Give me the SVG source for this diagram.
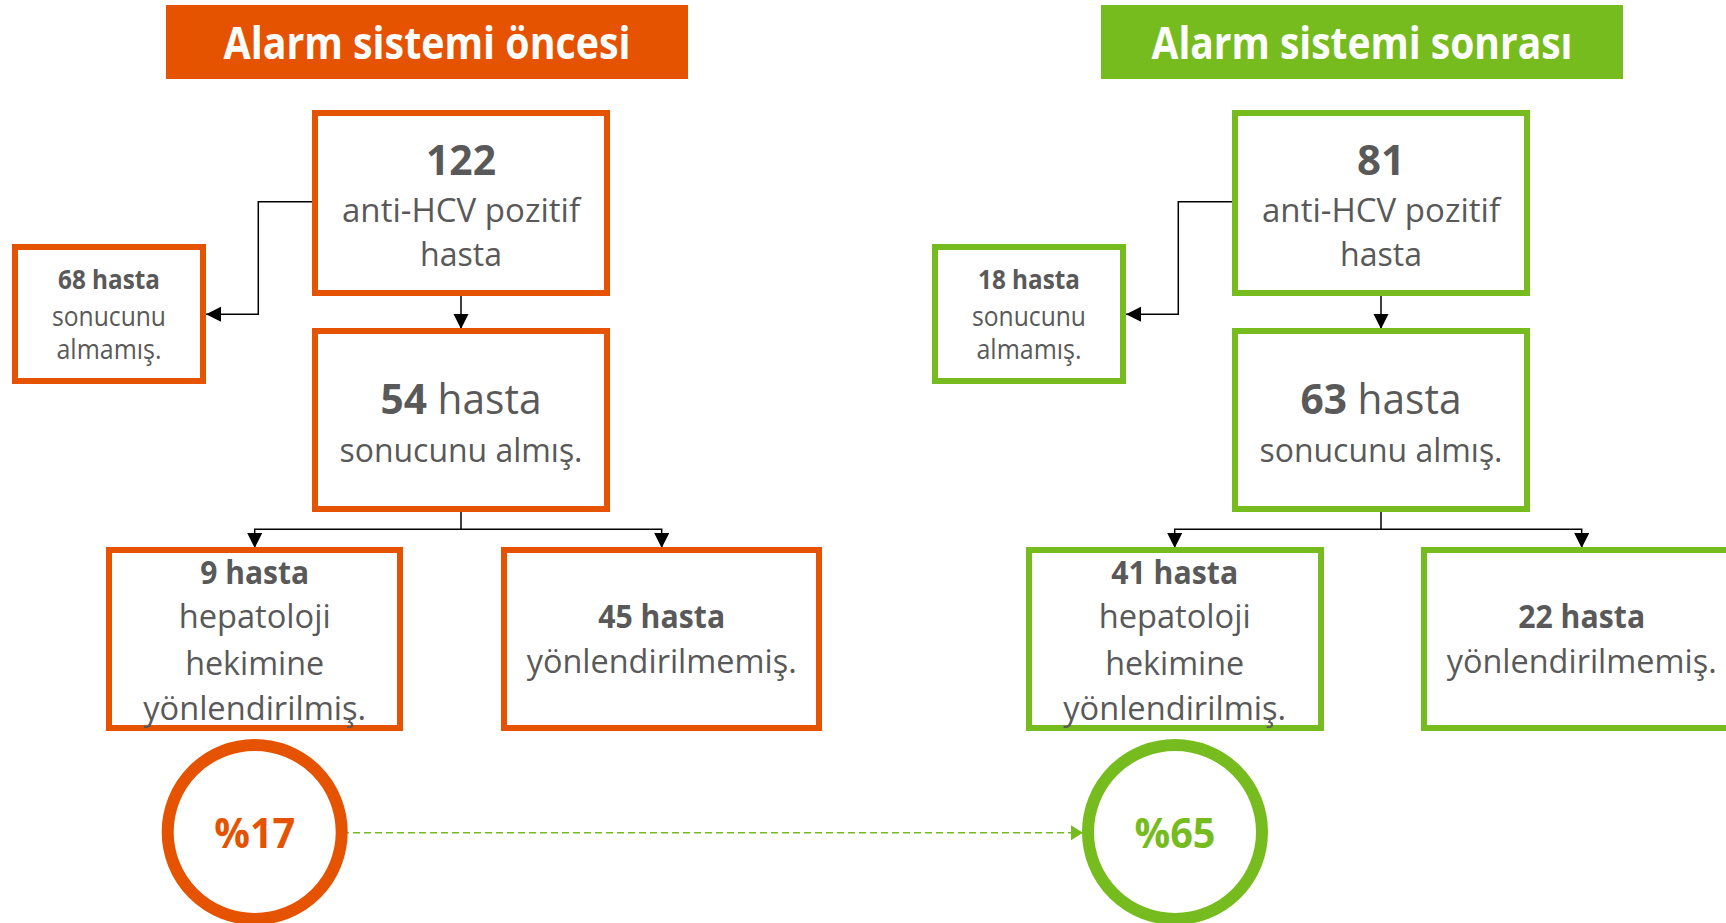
<svg xmlns="http://www.w3.org/2000/svg" width="1726" height="923" viewBox="0 0 1726 923">
<style>
.t{font-family:'Open Sans','Noto Sans',sans-serif;fill:#595959;text-anchor:middle}
.b{font-weight:700}
.s42{font-size:42px}.s33{font-size:33px}.s26{font-size:27px}
.or{fill:#fff;stroke:#E65300;stroke-width:6}
.gr{fill:#fff;stroke:#77BC1F;stroke-width:6}
.hd{font-family:'Open Sans','Noto Sans',sans-serif;font-size:44px;font-weight:700;fill:#fff;text-anchor:middle}
.conn{fill:none;stroke:#000;stroke-width:1.5}
</style>
<defs>
<marker id="ah" markerUnits="userSpaceOnUse" markerWidth="16" markerHeight="16" refX="15" refY="7.5" orient="auto"><path d="M0,0 L15,7.5 L0,15 z" fill="#000"/></marker>
<marker id="ahg" markerUnits="userSpaceOnUse" markerWidth="14" markerHeight="16" refX="12" refY="7.5" orient="auto"><path d="M0,0 L12,7.5 L0,15 z" fill="#77BC1F"/></marker>
</defs>
<rect width="1726" height="923" fill="#fff"/>

<g id="header-oncesi">
<rect x="166" y="5" width="522" height="74" fill="#E65300"/>
<text class="hd" x="427" y="59" textLength="407" lengthAdjust="spacingAndGlyphs">Alarm sistemi öncesi</text>
</g>
<g id="header-sonrasi">
<rect x="1101" y="5" width="522" height="74" fill="#77BC1F"/>
<text class="hd" x="1362" y="59" textLength="421" lengthAdjust="spacingAndGlyphs">Alarm sistemi sonrası</text>
</g>

<g id="connectors">
<path class="conn" d="M312,201.7 H258.3 V314.3 H206" marker-end="url(#ah)"/>
<path class="conn" d="M461,293 V329" marker-end="url(#ah)"/>
<path class="conn" d="M461,512 V529.3 H254.7 V548" marker-end="url(#ah)"/>
<path class="conn" d="M461,529.3 H661.7 V548" marker-end="url(#ah)"/>
<path class="conn" d="M1232,201.7 H1178.3 V314.3 H1126" marker-end="url(#ah)"/>
<path class="conn" d="M1381,293 V329" marker-end="url(#ah)"/>
<path class="conn" d="M1381,512 V529.3 H1174.7 V548" marker-end="url(#ah)"/>
<path class="conn" d="M1381,529.3 H1581.7 V548" marker-end="url(#ah)"/>
<path d="M342,832.7 H1083" fill="none" stroke="#77BC1F" stroke-width="1.6" stroke-dasharray="7 4" marker-end="url(#ahg)"/>
</g>

<g id="n122">
<rect class="or" x="315" y="113" width="292" height="180"/>
<text class="t b s42" x="461" y="175" textLength="70" lengthAdjust="spacingAndGlyphs">122</text>
<text class="t s33" x="461" y="221.7" textLength="238" lengthAdjust="spacingAndGlyphs">anti-HCV pozitif</text>
<text class="t s33" x="461" y="266" textLength="82" lengthAdjust="spacingAndGlyphs">hasta</text>
</g>
<g id="n54">
<rect class="or" x="315" y="331" width="292" height="178"/>
<text class="t s42" x="461" y="414" textLength="161" lengthAdjust="spacingAndGlyphs"><tspan class="b">54</tspan> hasta</text>
<text class="t s33" x="461" y="461.7" textLength="243" lengthAdjust="spacingAndGlyphs">sonucunu almış.</text>
</g>
<g id="n68">
<rect class="or" x="15" y="247" width="188" height="134"/>
<text class="t b s26" x="109" y="289.3" textLength="102" lengthAdjust="spacingAndGlyphs">68 hasta</text>
<text class="t s26" x="109" y="326" textLength="114" lengthAdjust="spacingAndGlyphs">sonucunu</text>
<text class="t s26" x="109" y="359.3" textLength="105" lengthAdjust="spacingAndGlyphs">almamış.</text>
</g>
<g id="n9">
<rect class="or" x="109" y="550" width="291" height="178"/>
<text class="t b s33" x="254.7" y="584" textLength="109" lengthAdjust="spacingAndGlyphs">9 hasta</text>
<text class="t s33" x="254.7" y="628.3" textLength="152" lengthAdjust="spacingAndGlyphs">hepatoloji</text>
<text class="t s33" x="254.7" y="675" textLength="139" lengthAdjust="spacingAndGlyphs">hekimine</text>
<text class="t s33" x="254.7" y="720" textLength="223" lengthAdjust="spacingAndGlyphs">yönlendirilmiş.</text>
</g>
<g id="n45">
<rect class="or" x="504" y="550" width="315" height="178"/>
<text class="t b s33" x="661.7" y="628.3" textLength="127" lengthAdjust="spacingAndGlyphs">45 hasta</text>
<text class="t s33" x="661.7" y="673.3" textLength="270" lengthAdjust="spacingAndGlyphs">yönlendirilmemiş.</text>
</g>
<g id="p17">
<circle cx="254.7" cy="832" r="87" fill="#fff" stroke="#E65300" stroke-width="12"/>
<text class="t b s42" x="254.7" y="848" style="fill:#E65300" textLength="81" lengthAdjust="spacingAndGlyphs">%17</text>
</g>

<g id="n81">
<rect class="gr" x="1235" y="113" width="292" height="180"/>
<text class="t b s42" x="1381" y="175" textLength="48" lengthAdjust="spacingAndGlyphs">81</text>
<text class="t s33" x="1381" y="221.7" textLength="238" lengthAdjust="spacingAndGlyphs">anti-HCV pozitif</text>
<text class="t s33" x="1381" y="266" textLength="82" lengthAdjust="spacingAndGlyphs">hasta</text>
</g>
<g id="n63">
<rect class="gr" x="1235" y="331" width="292" height="178"/>
<text class="t s42" x="1381" y="414" textLength="161" lengthAdjust="spacingAndGlyphs"><tspan class="b">63</tspan> hasta</text>
<text class="t s33" x="1381" y="461.7" textLength="243" lengthAdjust="spacingAndGlyphs">sonucunu almış.</text>
</g>
<g id="n18">
<rect class="gr" x="935" y="247" width="188" height="134"/>
<text class="t b s26" x="1029" y="289.3" textLength="102" lengthAdjust="spacingAndGlyphs">18 hasta</text>
<text class="t s26" x="1029" y="326" textLength="114" lengthAdjust="spacingAndGlyphs">sonucunu</text>
<text class="t s26" x="1029" y="359.3" textLength="105" lengthAdjust="spacingAndGlyphs">almamış.</text>
</g>
<g id="n41">
<rect class="gr" x="1029" y="550" width="292" height="178"/>
<text class="t b s33" x="1174.7" y="584" textLength="127" lengthAdjust="spacingAndGlyphs">41 hasta</text>
<text class="t s33" x="1174.7" y="628.3" textLength="152" lengthAdjust="spacingAndGlyphs">hepatoloji</text>
<text class="t s33" x="1174.7" y="675" textLength="139" lengthAdjust="spacingAndGlyphs">hekimine</text>
<text class="t s33" x="1174.7" y="720" textLength="223" lengthAdjust="spacingAndGlyphs">yönlendirilmiş.</text>
</g>
<g id="n22">
<rect class="gr" x="1424" y="550" width="315" height="178"/>
<text class="t b s33" x="1581.7" y="628.3" textLength="127" lengthAdjust="spacingAndGlyphs">22 hasta</text>
<text class="t s33" x="1581.7" y="673.3" textLength="270" lengthAdjust="spacingAndGlyphs">yönlendirilmemiş.</text>
</g>
<g id="p65">
<circle cx="1175" cy="832" r="87" fill="#fff" stroke="#77BC1F" stroke-width="12"/>
<text class="t b s42" x="1175" y="848" style="fill:#77BC1F" textLength="81" lengthAdjust="spacingAndGlyphs">%65</text>
</g>
</svg>
